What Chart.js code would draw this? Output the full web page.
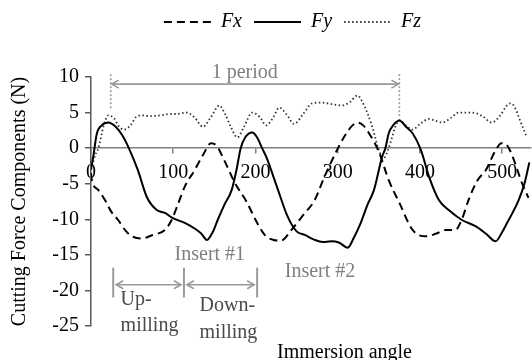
<!DOCTYPE html>
<html><head><meta charset="utf-8">
<script src="https://cdn.jsdelivr.net/npm/chart.js@4.4.1/dist/chart.umd.min.js"></script>
<style>html,body{margin:0;padding:0;background:#fff;}</style>
</head><body>
<canvas id="c" width="532" height="360"></canvas>
<script>
// ---- data (immersion angle in degrees, force in N) ----
const fxAngles = [0,1,9,17,25,33,42,50,62,75,90,98,106,114,126,136,146,153,162,175,189,202,212,222,231,245,258,272,284,299,310,318,324,331,338,350,362,375,391,407,420,431,443,451,459,470,480,492,499,505,512,524,532];
const fxValues = [-3.5,-4.5,-5.9,-7.3,-9,-10.1,-11.6,-12.4,-12.7,-12.2,-11.5,-10.1,-7.8,-5.4,-3.1,-1,0.7,0.3,-1.7,-4.9,-7.5,-10.5,-12.3,-12.9,-13,-11.3,-9.4,-7.3,-4,-0.3,2,3.2,3.6,3.2,2.1,-0.5,-4.5,-7.7,-11.5,-12.4,-12,-11.5,-11.5,-10,-7.3,-4.5,-3.1,-0.3,0.7,0.5,-1,-4.9,-7];

const fyAngles = [0,3,7,13,21,30,38,46,57,68,80,90,99,114,126,134,141,148,154,162,171,177,182,188,196,202,208,213,226,239,250,260,272,282,292,302,312,320,328,336,344,354,358,362,368,375,383,391,401,411,423,435,451,468,480,492,499,506,513,520,527,533];
const fyValues = [-3,-1,2,3.2,3.6,3,1.8,0,-3.1,-6.9,-8.7,-9.1,-9.8,-10.5,-11.3,-12,-12.9,-11.8,-10.1,-8,-5.9,-3,0,1.6,2.2,1.5,0,-1.2,-5.4,-9.6,-11.7,-12.2,-12.9,-13.2,-13.1,-13.3,-14,-12.5,-10.5,-8,-5.9,-1.2,0,2.1,3.3,3.9,3,2.1,-0.2,-4,-7.3,-8.7,-10.1,-11,-12,-13.1,-12,-10.5,-9,-7.3,-5,-2];

const fzAngles = [0,5,9,15,21,28,33,40,48,55,62,72,84,95,104,116,126,136,146,156,163,170,178,186,196,205,213,221,229,238,247,258,269,280,292,305,315,324,330,342,350,356,361,366,370,375,382,391,400,411,420,427,437,447,458,468,477,487,497,505,510,515,522,530];
const fzValues = [-3,-1,0,3,4.6,4.2,3.2,2.6,3.2,4.4,4.6,4.5,4.6,4.8,4.8,5,4.3,3,4.4,6,4.8,3,1.5,3,5,4.4,3.2,4.2,5.7,4.7,3.4,4.8,6.3,6.4,6.2,6,6.5,7.4,6.5,3,-0.3,-1.4,-0.3,1.5,3,3.9,3.3,2.6,3.4,4.1,3.8,3.6,4.2,5,5,4.9,4.4,3.6,4.5,5.9,6.3,5.8,3.8,1.5];

const seriesLabels = ['Fx', 'Fy', 'Fz'];
const xTickStep = 100, yTickStep = 5;

// annotation anchors (data units)
const periodEnds = [24, 375];
const periodArrowValue = 9;
const periodLineTop = 10.4;
const periodLineBottoms = [5.5, 4.4];
const periodText = '1 period';
const periodTextPos = [187, 10.6];
const millingBounds = [27, 113, 202];
const millingBarRange = [-16.8, -21];
const millingArrowValue = -19.2;
const millingTexts = [['Up-', 'milling'], ['Down-', 'milling']];
const millingTextAngles = [36, 132];
const millingTextValues = [[-21.3, -25], [-22.2, -25.9]];
const insertTexts = ['Insert #1', 'Insert #2'];
const insertAngles = [144.5, 278.5];
const insertValues = [-15, -17.4];
const xTitle = 'Immersion angle';
const yTitle = 'Cutting Force Components (N)';

const FONT = "'Liberation Serif', 'Times New Roman', serif";
const pts = (a, v) => a.map((x, i) => ({x, y: v[i]}));

const legendTweak = {
  id: 'legendTweak',
  beforeUpdate(chart) {
    const lg = chart.legend;
    if (lg && !lg._patched) {
      const orig = lg.fit;
      lg.fit = function () { orig.call(this); this.height += 35; };
      lg._patched = true;
    }
  },
  afterLayout(chart) {
    const lg = chart.legend;
    if (lg) { lg.left += 27; lg.right += 27; }
  }
};

function arrowHead(ctx, x, y, dir) {
  ctx.beginPath();
  ctx.moveTo(x - dir * 7, y - 4);
  ctx.lineTo(x, y);
  ctx.lineTo(x - dir * 7, y + 4);
  ctx.stroke();
}
function dblArrow(ctx, x1, x2, y) {
  ctx.beginPath(); ctx.moveTo(x1, y); ctx.lineTo(x2, y); ctx.stroke();
  arrowHead(ctx, x1, y, -1); arrowHead(ctx, x2, y, 1);
}

const annotations = {
  id: 'annotations',
  afterDatasetsDraw(chart) {
    const {ctx, scales: {x, y}, chartArea} = chart;
    ctx.save();
    ctx.strokeStyle = '#9a9a9a';
    ctx.lineWidth = 1.6;
    ctx.setLineDash([2, 2]);
    periodEnds.forEach((a, i) => {
      ctx.beginPath();
      ctx.moveTo(x.getPixelForValue(a), y.getPixelForValue(periodLineTop));
      ctx.lineTo(x.getPixelForValue(a), y.getPixelForValue(periodLineBottoms[i]));
      ctx.stroke();
    });
    ctx.setLineDash([]);
    dblArrow(ctx, x.getPixelForValue(periodEnds[0]) + 1, x.getPixelForValue(periodEnds[1]) - 1, y.getPixelForValue(periodArrowValue));
    ctx.lineWidth = 2;
    millingBounds.forEach(a => {
      ctx.beginPath();
      ctx.moveTo(x.getPixelForValue(a), y.getPixelForValue(millingBarRange[0]));
      ctx.lineTo(x.getPixelForValue(a), y.getPixelForValue(millingBarRange[1]));
      ctx.stroke();
    });
    ctx.lineWidth = 1.6;
    for (let i = 0; i < millingBounds.length - 1; i++) {
      dblArrow(ctx, x.getPixelForValue(millingBounds[i]) + 3, x.getPixelForValue(millingBounds[i + 1]) - 3, y.getPixelForValue(millingArrowValue));
    }
    ctx.font = '20px ' + FONT;
    ctx.textBaseline = 'middle';
    ctx.textAlign = 'center';
    ctx.fillStyle = '#7f7f7f';
    ctx.fillText(periodText, x.getPixelForValue(periodTextPos[0]), y.getPixelForValue(periodTextPos[1]));
    insertTexts.forEach((t, i) => ctx.fillText(t, x.getPixelForValue(insertAngles[i]), y.getPixelForValue(insertValues[i])));
    ctx.textAlign = 'left';
    ctx.fillStyle = '#4a4a4a';
    millingTexts.forEach((lines, i) => lines.forEach((t, j) =>
      ctx.fillText(t, x.getPixelForValue(millingTextAngles[i]), y.getPixelForValue(millingTextValues[i][j]))));
    ctx.fillStyle = '#000';
    ctx.fillText(xTitle, chartArea.left + 186, chartArea.bottom + 27);
    ctx.restore();
  }
};

new Chart(document.getElementById('c'), {
  type: 'line',
  data: {
    datasets: [
      {label: seriesLabels[0], data: pts(fxAngles, fxValues), borderColor: '#000', borderWidth: 2, borderDash: [8, 5], pointRadius: 0, fill: false, cubicInterpolationMode: 'monotone'},
      {label: seriesLabels[1], data: pts(fyAngles, fyValues), borderColor: '#000', borderWidth: 2, pointRadius: 0, fill: false, cubicInterpolationMode: 'monotone'},
      {label: seriesLabels[2], data: pts(fzAngles, fzValues), borderColor: '#333', borderWidth: 1.8, borderDash: [1.5, 2.5], pointRadius: 0, fill: false, cubicInterpolationMode: 'monotone'}
    ]
  },
  options: {
    responsive: false,
    animation: false,
    devicePixelRatio: 1,
    layout: {padding: {left: 0, right: 1, top: 0, bottom: 34}},
    scales: {
      x: {
        type: 'linear', position: {y: 0}, min: 0, max: 535,
        ticks: {stepSize: xTickStep, includeBounds: false, maxRotation: 0, autoSkip: false, padding: 8, color: '#000', font: {family: FONT, size: 20}},
        grid: {drawOnChartArea: false, drawTicks: true, tickLength: 5, color: '#808080', lineWidth: 1.5},
        border: {color: '#808080', width: 1.5}
      },
      y: {
        min: -25, max: 10,
        ticks: {stepSize: yTickStep, includeBounds: false, padding: 6, color: '#000', font: {family: FONT, size: 20}},
        grid: {drawOnChartArea: false, drawTicks: true, tickLength: 6, color: '#595959', lineWidth: 1.5},
        border: {color: '#595959', width: 1.5},
        title: {display: true, text: yTitle, color: '#000', font: {family: FONT, size: 20}, padding: {top: 8, bottom: 0}},
        afterFit(s) { s.width = 91; }
      }
    },
    plugins: {
      tooltip: {enabled: false},
      legend: {
        position: 'top',
        labels: {
          usePointStyle: true, pointStyle: 'line', pointStyleWidth: 47,
          boxHeight: 20, padding: 12, color: '#000',
          font: {family: FONT, size: 20, style: 'italic'},
          generateLabels(chart) {
            const items = Chart.defaults.plugins.legend.labels.generateLabels(chart);
            items.forEach((it, i) => {
              const ds = chart.data.datasets[it.datasetIndex ?? i];
              it.lineDash = ds.borderDash || [];
              it.lineWidth = ds.borderWidth;
              it.strokeStyle = ds.borderColor;
              it.pointStyle = 'line';
            });
            return items;
          }
        }
      }
    }
  },
  plugins: [legendTweak, annotations]
});
</script>
</body></html>
